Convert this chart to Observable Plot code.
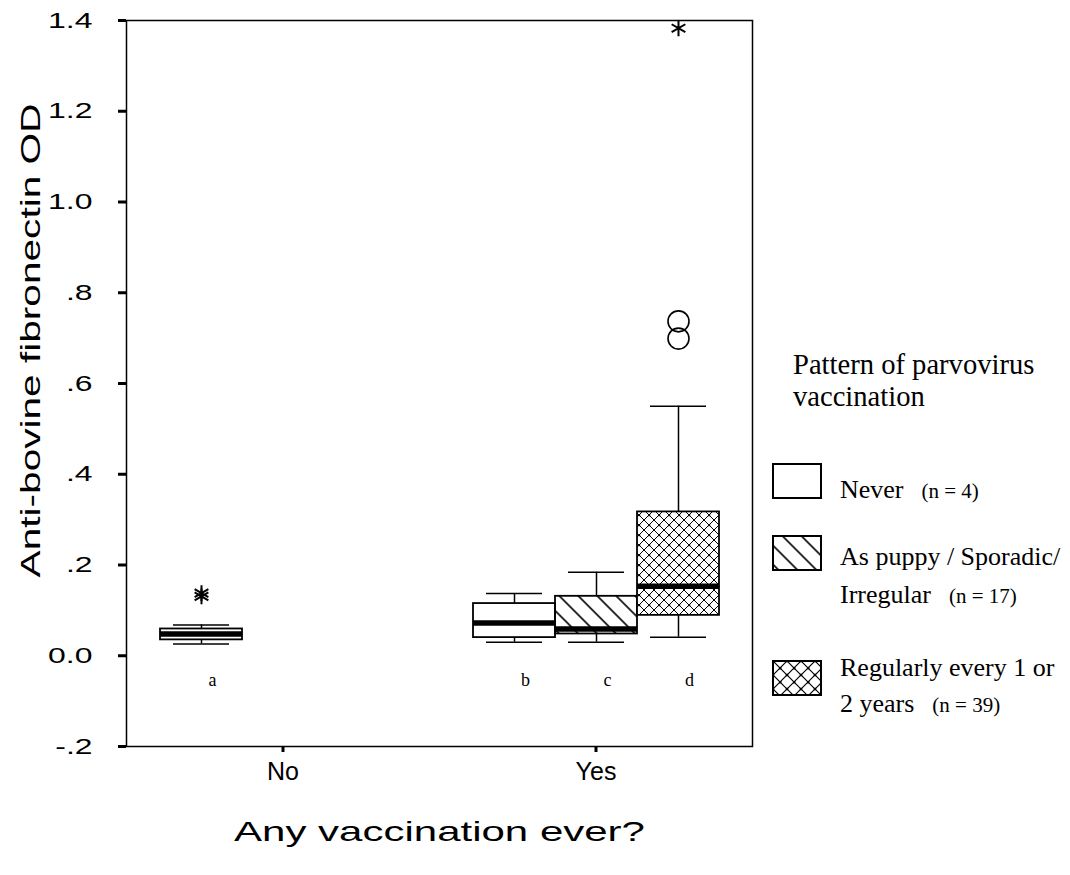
<!DOCTYPE html>
<html>
<head>
<meta charset="utf-8">
<script src="https://cdn.jsdelivr.net/npm/d3@7"></script>
<script src="https://cdn.jsdelivr.net/npm/@observablehq/plot@0.6"></script>
<style>
  html, body { margin: 0; padding: 0; background: #fff; }
  #page { position: relative; width: 1070px; height: 875px; overflow: hidden; background: #fff; }
  #chart { position: absolute; left: 0; top: 0; }
  .legend { position: absolute; font-family: "Liberation Serif", "Times New Roman", serif; color: #000; font-size: 26px; white-space: nowrap; }
  .legend .n { font-size: 21px; margin-left: 18px; }
  .swatch { position: absolute; left: 772px; width: 50px; height: 36px; }
</style>
</head>
<body>
<!-- fill patterns shared by the boxes and the key -->
<svg width="0" height="0" style="position:absolute">
  <defs>
    <pattern id="hatch" patternUnits="userSpaceOnUse" width="13.4" height="13.4" patternTransform="rotate(-45)">
      <line x1="6.7" y1="-1" x2="6.7" y2="15" stroke="#000" stroke-width="1.6"/>
    </pattern>
    <pattern id="cross" patternUnits="userSpaceOnUse" width="10" height="10">
      <rect width="10" height="10" fill="#fff"/>
      <path d="M0,0L10,10M10,0L0,10" stroke="#000" stroke-width="1"/>
      <rect x="4" y="4" width="2.2" height="2.2" fill="#000"/>
      <rect x="-1" y="-1" width="2" height="2" fill="#000"/>
      <rect x="9" y="-1" width="2" height="2" fill="#000"/>
      <rect x="-1" y="9" width="2" height="2" fill="#000"/>
      <rect x="9" y="9" width="2" height="2" fill="#000"/>
    </pattern>
    <pattern id="cross-key" patternUnits="userSpaceOnUse" width="14" height="14" x="1" y="1">
      <rect width="14" height="14" fill="#fff"/>
      <path d="M0,0L14,14M14,0L0,14" stroke="#000" stroke-width="1.2"/>
      <rect x="6" y="6" width="2.4" height="2.4" fill="#000"/>
      <rect x="-1.2" y="-1.2" width="2.4" height="2.4" fill="#000"/>
      <rect x="12.8" y="-1.2" width="2.4" height="2.4" fill="#000"/>
      <rect x="-1.2" y="12.8" width="2.4" height="2.4" fill="#000"/>
      <rect x="12.8" y="12.8" width="2.4" height="2.4" fill="#000"/>
    </pattern>
  </defs>
</svg>

<div id="page">
  <div id="chart"></div>

  <div class="legend" style="left:793px; top:349px; font-size:28.6px; line-height:32px;">Pattern of parvovirus<br>vaccination</div>

  <svg class="swatch" style="top:463px" viewBox="0 0 50 36"><rect x="1" y="1" width="48" height="34" fill="#fff" stroke="#000" stroke-width="2"/></svg>
  <div class="legend" style="left:840px; top:472px; line-height:36px;">Never<span class="n">(n = 4)</span></div>

  <svg class="swatch" style="top:535px" viewBox="0 0 50 36"><rect x="1" y="1" width="48" height="34" fill="url(#hatch)" stroke="#000" stroke-width="2"/></svg>
  <div class="legend" style="left:840px; top:538px; line-height:38px;">As puppy / Sporadic/<br>Irregular<span class="n">(n = 17)</span></div>

  <svg class="swatch" style="top:660px" viewBox="0 0 50 36"><rect x="1" y="1" width="48" height="34" fill="url(#cross-key)" stroke="#000" stroke-width="2"/></svg>
  <div class="legend" style="left:840px; top:650px; line-height:36px;">Regularly every 1 or<br>2 years<span class="n">(n = 39)</span></div>
</div>

<script>
// Box statistics: one entry per box (group on the x axis, vaccination pattern within it)
const groups      = ["No", "Yes", "Yes", "Yes"];
const patterns    = ["Never", "Never", "Sporadic", "Regular"];
const letters     = ["a", "b", "c", "d"];
const whiskerLow  = [0.026, 0.030, 0.030, 0.041];
const lowerQuart  = [0.035, 0.040, 0.048, 0.089];
const medians     = [0.048, 0.072, 0.059, 0.153];
const upperQuart  = [0.059, 0.115, 0.131, 0.317];
const whiskerHigh = [0.068, 0.137, 0.184, 0.550];

// Outliers (circles)
const outlierGroups   = ["Yes", "Yes"];
const outlierPatterns = ["Regular", "Regular"];
const outlierValues   = [0.737, 0.699];

// Extreme values (asterisks)
const extremeGroups   = ["No", "No", "Yes"];
const extremePatterns = ["Never", "Never", "Regular"];
const extremeValues   = [0.131, 0.138, 1.383];

const groupOrder   = ["No", "Yes"];
const patternOrder = ["Never", "Sporadic", "Regular"];
const patternFills = ["white", "url(#hatch)", "url(#cross)"];
const yTicks       = [-0.2, 0, 0.2, 0.4, 0.6, 0.8, 1.0, 1.2, 1.4];
const yTickLabels  = ["-.2", "0.0", ".2", ".4", ".6", ".8", "1.0", "1.2", "1.4"];
const yTitle = "Anti-bovine fibronectin OD";
const xTitle = "Any vaccination ever?";

const boxes = groups.map((g, i) => ({
  group: g, pattern: patterns[i], letter: letters[i],
  lo: whiskerLow[i], q1: lowerQuart[i], med: medians[i], q3: upperQuart[i], hi: whiskerHigh[i]
}));
const outliers = outlierValues.map((v, i) => ({group: outlierGroups[i], pattern: outlierPatterns[i], value: v}));
const extremes = extremeValues.map((v, i) => ({group: extremeGroups[i], pattern: extremePatterns[i], value: v}));
const yLabelOf = new Map(yTicks.map((t, i) => [t, yTickLabels[i]]));

const sans = "'Liberation Sans', Arial, sans-serif";
const serif = "'Liberation Serif', 'Times New Roman', serif";
const pos = {fx: "group", x: "pattern"};

const chart = Plot.plot({
  width: 760,
  height: 875,
  marginLeft: 125,
  marginRight: 8,
  marginTop: 20,
  marginBottom: 129,
  style: {fontFamily: sans, fontSize: "22px", color: "#000", background: "#fff", overflow: "visible"},
  fx: {domain: groupOrder, padding: 0},
  x: {domain: patternOrder, paddingInner: 0, paddingOuter: 0.39, axis: null},
  y: {domain: [-0.2, 1.4]},
  color: {domain: patternOrder, range: patternFills},
  marks: [
    // whiskers
    Plot.ruleX(boxes, {...pos, y1: "q3", y2: "hi", stroke: "#000", strokeWidth: 1.5}),
    Plot.ruleX(boxes, {...pos, y1: "lo", y2: "q1", stroke: "#000", strokeWidth: 1.5}),
    Plot.tickY(boxes, {...pos, y: "hi", insetLeft: 13, insetRight: 13, stroke: "#000", strokeWidth: 1.5}),
    Plot.tickY(boxes, {...pos, y: "lo", insetLeft: 13, insetRight: 13, stroke: "#000", strokeWidth: 1.5}),
    // interquartile boxes
    Plot.barY(boxes, {...pos, y1: "q1", y2: "q3", fill: "pattern", stroke: "#000", strokeWidth: 1.8}),
    // medians
    Plot.tickY(boxes, {...pos, y: "med", stroke: "#000", strokeWidth: 5.5}),
    // outliers and extremes
    Plot.dot(outliers, {...pos, y: "value", r: 10.5, stroke: "#000", strokeWidth: 1.6, fill: "none"}),
    Plot.dot(extremes, {...pos, y: "value", symbol: "asterisk", r: 7.5, stroke: "#000", strokeWidth: 2}),
    // group letters under the boxes
    Plot.text(boxes, {...pos, text: "letter", frameAnchor: "bottom", lineAnchor: "middle", dy: -66, dx: 11,
      fontFamily: serif, fontSize: 18, fill: "#000"}),
    Plot.frame({facet: "super", stroke: "#000", strokeWidth: 1.5}),
    Plot.axisY({ticks: yTicks, tickFormat: (d) => yLabelOf.get(d), tickSize: 8, tickPadding: 26,
      stroke: "#000", strokeWidth: 3, fontSize: 22, label: null}),
    Plot.axisFx({anchor: "bottom", tickSize: 6, tickPadding: 10, stroke: "#000", strokeWidth: 3,
      fontSize: 25, label: null}),
    Plot.text([yTitle], {facet: "super", frameAnchor: "left", textAnchor: "middle", lineAnchor: "middle",
      rotate: -90, dx: -95, dy: -43, fontSize: 28, fill: "#000"}),
    Plot.text([xTitle], {facet: "super", frameAnchor: "bottom", textAnchor: "middle", lineAnchor: "middle",
      dy: 86, fontSize: 28, fill: "#000"})
  ]
});

document.getElementById("chart").append(chart);

// the axis lettering is set wide
function stretch(nodes, k) {
  for (const t of nodes) {
    const w = t.getComputedTextLength();
    if (w > 0) {
      t.setAttribute("textLength", (w * k).toFixed(1));
      t.setAttribute("lengthAdjust", "spacingAndGlyphs");
    }
  }
}
stretch(chart.querySelectorAll('g[aria-label="y-axis tick label"] text'), 1.45);
stretch([...chart.querySelectorAll("text")].filter((t) => t.textContent === yTitle), 1.45);
stretch([...chart.querySelectorAll("text")].filter((t) => t.textContent === xTitle), 1.5);
</script>
</body>
</html>
